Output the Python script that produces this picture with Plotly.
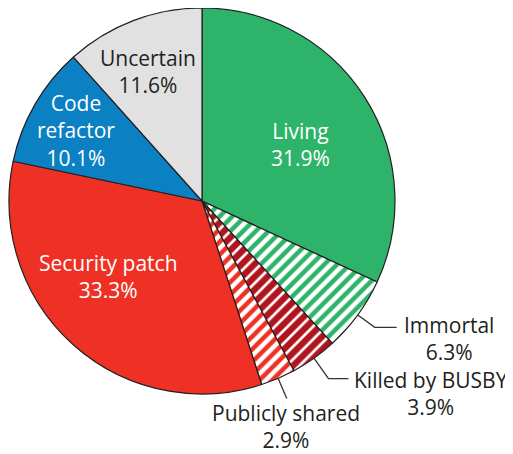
import math
import plotly.graph_objects as go

# page body has an 8px margin, so work in window pixels and shift
OFF = 8
W, H = 513 - OFF, 454 - OFF

# slice data, clockwise from 12 o'clock
labels = ["Living", "Immortal", "Killed by BUSBY", "Publicly shared",
          "Security patch", "Code refactor", "Uncertain"]
values = [31.9, 6.3, 3.9, 2.9, 33.3, 10.1, 11.6]
label_text = ["Living", "Immortal", "Killed by BUSBY", "Publicly shared",
              "Security patch", "Code<br>refactor", "Uncertain"]

GREEN = "#2DB36A"
RED = "#EE3124"
DARK_RED = "#B0141E"
BLUE = "#0B80C3"
GREY = "#E1E1E1"
INK = "#231F20"
FONT = "Open Sans, sans-serif"

# pie geometry in window pixels
CX, CY, R = 202, 201, 193

# solid fill / pattern per slice
bg = [GREEN, "white", DARK_RED, "white", RED, BLUE, GREY]
fg = [GREEN, GREEN, "white", RED, RED, BLUE, GREY]
shape = ["", "/", "/", "/", "", "", ""]
solidity = [0.5, 0.5, 0.3, 0.5, 0.5, 0.5, 0.5]

# label block centres (window pixels)
label_pos = {
    "Living": (300, 144),
    "Uncertain": (148, 72),
    "Code refactor": (76, 130),
    "Security patch": (108, 276),
    "Immortal": (449, 338),
    "Killed by BUSBY": (431, 393),
    "Publicly shared": (286, 426),
}
# radial leader length and horizontal tail (pixels) for outside labels
leaders = {
    "Immortal": (21, 22),
    "Killed by BUSBY": (25, 20),
    "Publicly shared": (22, 0),
}


def px(x, y):
    return (x - OFF) / W, 1 - (y - OFF) / H


fig = go.Figure(go.Pie(
    labels=labels,
    values=values,
    sort=False,
    direction="clockwise",
    rotation=0,
    textinfo="none",
    hoverinfo="label+percent",
    marker=dict(
        colors=bg,
        line=dict(color=INK, width=1.2),
        pattern=dict(shape=shape, fgcolor=fg, bgcolor=bg,
                     solidity=solidity, size=9, fillmode="replace"),
    ),
    domain=dict(x=[px(CX - R, 0)[0], px(CX + R, 0)[0]],
                y=[px(0, CY + R)[1], px(0, CY - R)[1]]),
    showlegend=False,
))

annotations = []
shapes = []
total = sum(values)
cum = 0
for lab, txt, v in zip(labels, label_text, values):
    mid = (cum + v / 2) / total * 2 * math.pi
    cum += v
    pct = f"{v / total * 100:.1f}%"
    x, y = label_pos[lab]
    color = INK if (lab == "Uncertain" or lab in leaders) else "white"
    ax, ay = px(x, y)
    annotations.append(dict(
        text=f"{txt}<br>{pct}", x=ax, y=ay, xref="paper", yref="paper",
        xanchor="center", yanchor="middle", showarrow=False, borderpad=0,
        font=dict(family=FONT, size=21, color=color),
    ))
    if lab in leaders:
        ext, tail = leaders[lab]
        sx, sy = CX + R * math.sin(mid), CY - R * math.cos(mid)
        ex, ey = CX + (R + ext) * math.sin(mid), CY - (R + ext) * math.cos(mid)
        pts = [(sx, sy), (ex, ey)]
        if tail:
            pts.append((ex + tail, ey))
        path = "M " + " L ".join(f"{px(a, b)[0]},{px(a, b)[1]}" for a, b in pts)
        shapes.append(dict(type="path", path=path, xref="paper", yref="paper",
                           line=dict(color="#333333", width=1.3)))

fig.update_layout(
    width=W, height=H,
    margin=dict(l=0, r=0, t=0, b=0),
    paper_bgcolor="white",
    plot_bgcolor="white",
    annotations=annotations,
    shapes=shapes,
)

fig.write_html("out.html")
